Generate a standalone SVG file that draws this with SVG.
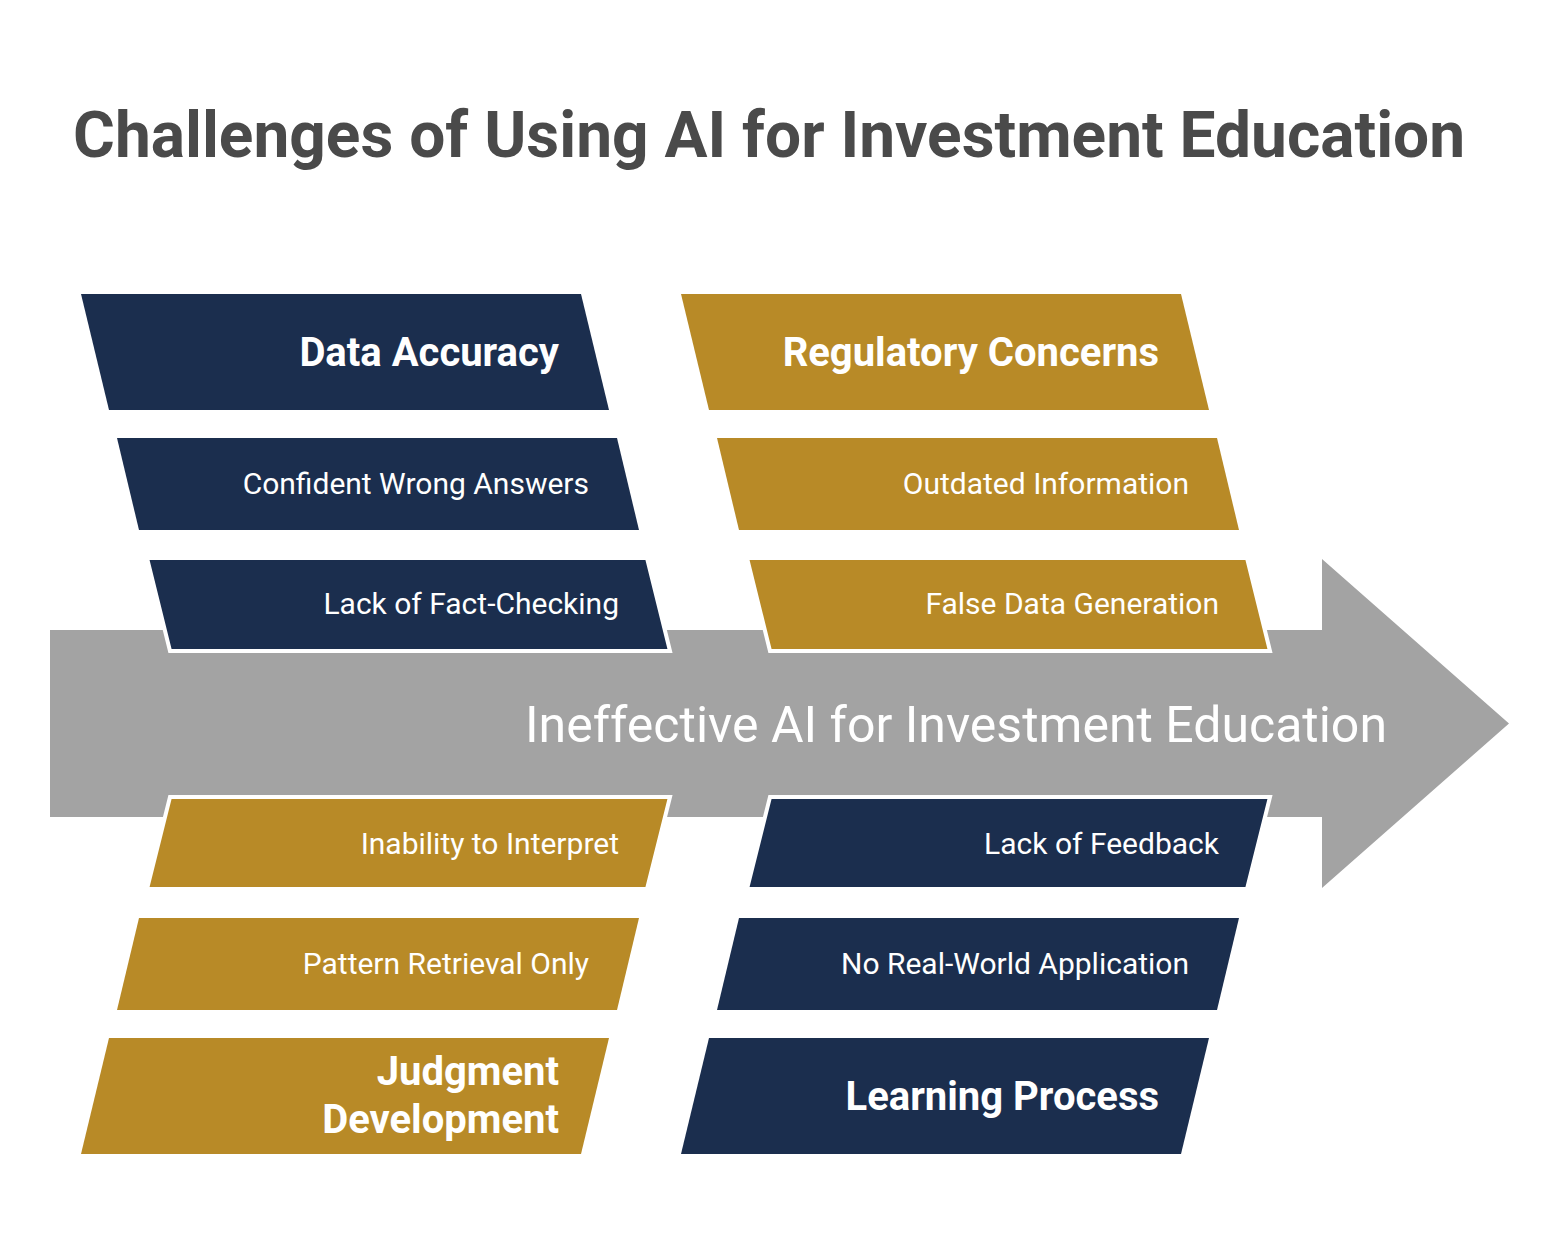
<svg xmlns="http://www.w3.org/2000/svg" width="1560" height="1252" viewBox="0 0 1560 1252">
<style>
.navy{fill:#1b2e4e}
.gold{fill:#b88a27}
.edge{stroke:#ffffff;stroke-width:4;stroke-linejoin:miter}
.t{font-family:Roboto,"Liberation Sans",sans-serif;fill:#ffffff;text-anchor:end}
.big{font-size:40px;font-weight:bold}
.small{font-size:30px}
</style>
<rect width="1560" height="1252" fill="#ffffff"/>
<text x="73" y="157" font-family="Roboto,'Liberation Sans',sans-serif" font-size="64" font-weight="bold" fill="#4a4a4a">Challenges of Using AI for Investment Education</text>
<g id="connectors">
<polygon id="spine" points="50,630 1322,630 1322,559 1509,723.5 1322,888 1322,817 50,817" fill="#a3a3a3"/>
<text class="t" x="1387" y="742" font-size="50">Ineffective AI for Investment Education</text>
</g>
<g id="data-accuracy">
<polygon class="navy" points="81,294 581,294 609,410 109,410"/>
<text class="t big" x="559" y="366">Data Accuracy</text>
</g>
<g id="confident-wrong-answers">
<polygon class="navy" points="117,438 617,438 639,530 139,530"/>
<text class="t small" x="589" y="494">Confident Wrong Answers</text>
</g>
<g id="lack-of-fact-checking">
<polygon class="navy edge" points="147,558 647,558 670,651 170,651"/>
<text class="t small" x="619" y="614">Lack of Fact-Checking</text>
</g>
<g id="regulatory-concerns">
<polygon class="gold" points="681,294 1181,294 1209,410 709,410"/>
<text class="t big" x="1159" y="366">Regulatory Concerns</text>
</g>
<g id="outdated-information">
<polygon class="gold" points="717,438 1217,438 1239,530 739,530"/>
<text class="t small" x="1189" y="494">Outdated Information</text>
</g>
<g id="false-data-generation">
<polygon class="gold edge" points="747,558 1247,558 1270,651 770,651"/>
<text class="t small" x="1219" y="614">False Data Generation</text>
</g>
<g id="inability-to-interpret">
<polygon class="gold edge" points="170,797 670,797 647,889 147,889"/>
<text class="t small" x="619" y="854">Inability to Interpret</text>
</g>
<g id="pattern-retrieval-only">
<polygon class="gold" points="139,918 639,918 617,1010 117,1010"/>
<text class="t small" x="589" y="974">Pattern Retrieval Only</text>
</g>
<g id="judgment-development">
<polygon class="gold" points="109,1038 609,1038 581,1154 81,1154"/>
<text class="t big" x="559" y="1085">Judgment</text>
<text class="t big" x="559" y="1133">Development</text>
</g>
<g id="lack-of-feedback">
<polygon class="navy edge" points="770,797 1270,797 1247,889 747,889"/>
<text class="t small" x="1219" y="854">Lack of Feedback</text>
</g>
<g id="no-real-world-application">
<polygon class="navy" points="739,918 1239,918 1217,1010 717,1010"/>
<text class="t small" x="1189" y="974">No Real-World Application</text>
</g>
<g id="learning-process">
<polygon class="navy" points="709,1038 1209,1038 1181,1154 681,1154"/>
<text class="t big" x="1159" y="1110">Learning Process</text>
</g>
</svg>
